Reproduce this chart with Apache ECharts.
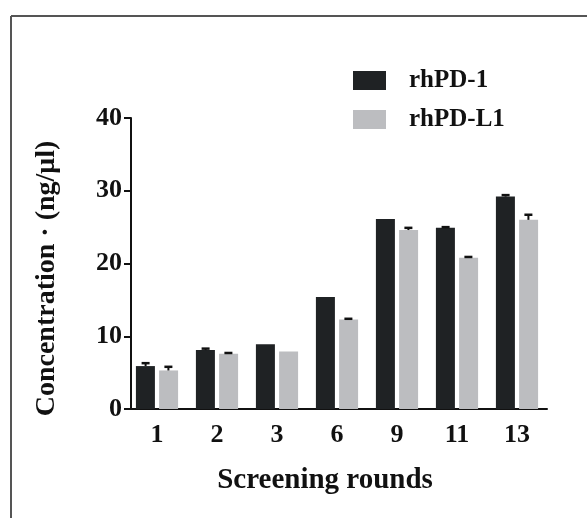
<!DOCTYPE html>
<html>
<head>
<meta charset="utf-8">
<script src="https://cdn.jsdelivr.net/npm/echarts@6/dist/echarts.min.js"></script>
<style>html,body{margin:0;padding:0;background:#fff}#c{width:587px;height:518px}</style>
</head>
<body>
<div id="c"></div>
<script>
var categories = ['1', '2', '3', '6', '9', '11', '13'];
var pd1Values = [5.9, 8.1, 8.9, 15.4, 26.1, 24.9, 29.2];
var pdl1Values = [5.3, 7.6, 7.9, 12.3, 24.6, 20.8, 26.0];
var pd1Err = [0.4, 0.2, 0, 0, 0, 0.1, 0.2];
var pdl1Err = [0.5, 0.1, 0, 0.1, 0.3, 0.1, 0.7];
var yTicks = [0, 10, 20, 30, 40];

var FONT = 'Liberation Serif';
var chart = echarts.init(document.getElementById('c'), null, {renderer: 'canvas'});

function errSeries(name, vals, errs, side) {
  var data = vals.map(function (v, i) { return [i, v, errs[i]]; });
  return {
    name: name + ' err',
    type: 'custom',
    silent: true,
    z: 5,
    data: data,
    renderItem: function (params, api) {
      var i = api.value(0), v = api.value(1), e = api.value(2);
      if (!e) return null;
      var bw = api.size([1, 0])[0];
      var off = side * bw * 0.19;
      var p0 = api.coord([i, v]);
      var p1 = api.coord([i, v + e]);
      var x = p0[0] + off;
      return {
        type: 'group',
        children: [
          {type: 'line', shape: {x1: x, y1: p0[1], x2: x, y2: p1[1]}, style: {stroke: '#111', lineWidth: 2}},
          {type: 'line', shape: {x1: x - 4, y1: p1[1], x2: x + 4, y2: p1[1]}, style: {stroke: '#111', lineWidth: 2.5}}
        ]
      };
    }
  };
}

var option = {
  animation: false,
  backgroundColor: '#fff',
  textStyle: {fontFamily: FONT},
  graphic: [
    {type: 'line', shape: {x1: 11, y1: 16, x2: 587, y2: 16}, style: {stroke: '#555', lineWidth: 2}},
    {type: 'line', shape: {x1: 11, y1: 16, x2: 11, y2: 518}, style: {stroke: '#555', lineWidth: 2}}
  ],
  legend: {
    orient: 'vertical',
    left: 348,
    top: 63,
    itemWidth: 33,
    itemHeight: 19,
    itemGap: 14,
    icon: 'rect',
    data: ['rhPD-1', 'rhPD-L1'],
    textStyle: {fontFamily: FONT, fontWeight: 'bold', fontSize: 25, color: '#111', padding: [0, 0, 0, 18]}
  },
  grid: {left: 127, right: 40, top: 118, bottom: 109, containLabel: false},
  xAxis: {
    type: 'category',
    data: categories,
    name: 'Screening rounds',
    nameLocation: 'middle',
    nameGap: 57,
    nameTextStyle: {fontFamily: FONT, fontWeight: 'bold', fontSize: 29, color: '#111', padding: [0, 24, 0, 0]},
    axisLine: {lineStyle: {color: '#111', width: 2}},
    axisTick: {alignWithLabel: true, length: 7, lineStyle: {color: '#111', width: 2}},
    axisLabel: {fontFamily: FONT, fontWeight: 'bold', fontSize: 26, color: '#111', margin: 13}
  },
  yAxis: {
    type: 'value',
    min: 0,
    max: 40,
    interval: 10,
    offset: -4,
    name: 'Concentration · (ng/μl)',
    nameLocation: 'middle',
    nameGap: 70,
    nameRotate: 90,
    nameTextStyle: {fontFamily: FONT, fontWeight: 'bold', fontSize: 28, color: '#111', padding: [0, 30, 0, 0]},
    axisLine: {show: true, lineStyle: {color: '#111', width: 2}},
    axisTick: {show: true, length: 7, lineStyle: {color: '#111', width: 2}},
    splitLine: {show: false},
    axisLabel: {fontFamily: FONT, fontWeight: 'bold', fontSize: 26, color: '#111', margin: 9,
      formatter: function (v) { return yTicks.indexOf(v) >= 0 ? String(v) : ''; }}
  },
  series: [
    {name: 'rhPD-1', type: 'bar', data: pd1Values, barWidth: 19, barGap: '22%', itemStyle: {color: '#1f2224'}},
    {name: 'rhPD-L1', type: 'bar', data: pdl1Values, barWidth: 19, itemStyle: {color: '#bcbdc0'}},
    errSeries('rhPD-1', pd1Values, pd1Err, -1),
    errSeries('rhPD-L1', pdl1Values, pdl1Err, 1)
  ]
};
chart.setOption(option);
</script>
</body>
</html>
